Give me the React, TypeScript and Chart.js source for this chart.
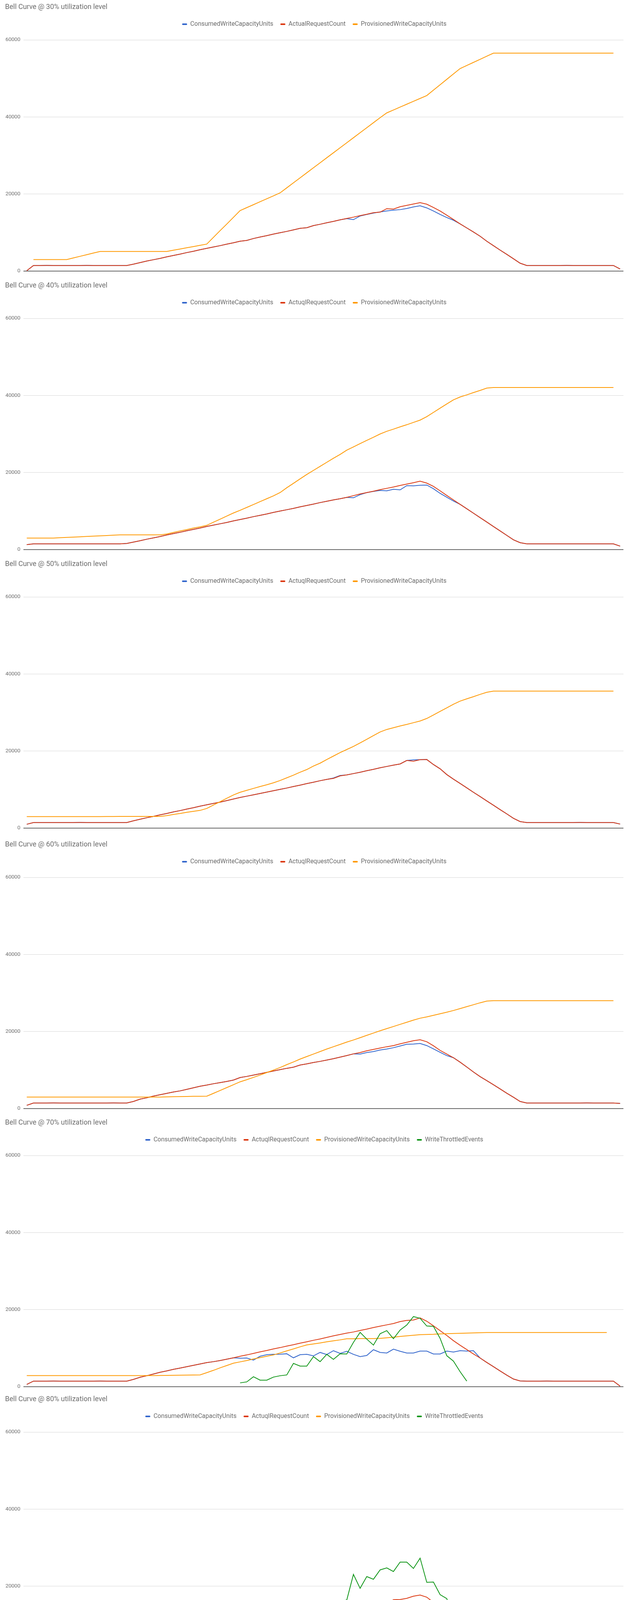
import React, { useEffect, useRef } from "react";
import { Chart, registerables } from "chart.js";

Chart.register(...registerables);

// ---------- categories (90 time buckets, x labels hidden) ----------
const timeLabels: string[] = Array.from({ length: 90 }, (_, i) => `t${i + 1}`);

// ---------- y axis ----------
const yTicks = [0, 20000, 40000, 60000];

// ---------- series names ----------
const consumedName = "ConsumedWriteCapacityUnits";
const actualName30 = "ActualRequestCount";
const actualName = "ActuqlRequestCount";
const provisionedName = "ProvisionedWriteCapacityUnits";
const throttledName = "WriteThrottledEvents";

// ---------- chart titles ----------
const titles = [
  "Bell Curve @ 30% utilization level",
  "Bell Curve @ 40% utilization level",
  "Bell Curve @ 50% utilization level",
  "Bell Curve @ 60% utilization level",
  "Bell Curve @ 70% utilization level",
  "Bell Curve @ 80% utilization level",
];

// ================= 30% =================
const actual30 = [
  100, 1450, 1450, 1460, 1450, 1450, 1440, 1450, 1450, 1460,
  1450, 1450, 1440, 1450, 1450, 1450, 1800, 2200, 2600, 2950,
  3300, 3700, 4050, 4400, 4800, 5150, 5550, 5900, 6250, 6600,
  7000, 7350, 7750, 7950, 8450, 8850, 9200, 9600, 9950, 10300,
  10700, 11100, 11250, 11800, 12150, 12550, 12900, 13300, 13650, 14000,
  14400, 14750, 15150, 15300, 16200, 16100, 16700, 17050, 17400, 17750,
  17350, 16500, 15600, 14500, 13400, 12250, 11200, 10150, 9050, 7750,
  6600, 5450, 4350, 3200, 2050, 1450, 1450, 1440, 1450, 1450,
  1450, 1460, 1450, 1450, 1450, 1440, 1450, 1450, 1450, 550,
];
const consumed30 = [
  100, 1450, 1450, 1460, 1450, 1450, 1440, 1450, 1450, 1460,
  1450, 1450, 1440, 1450, 1450, 1450, 1800, 2200, 2600, 2950,
  3300, 3700, 4050, 4400, 4800, 5150, 5550, 5900, 6250, 6600,
  7000, 7350, 7750, 7950, 8450, 8850, 9200, 9600, 9950, 10300,
  10700, 11100, 11250, 11800, 12150, 12550, 12900, 13300, 13600, 13350,
  14300, 14700, 15050, 15350, 15600, 15800, 15950, 16250, 16650, 16950,
  16400, 15600, 14700, 13900, 13200, 12250, 11200, 10150, 9050, 7750,
  6600, 5450, 4350, 3200, 2050, 1450, 1450, 1440, 1450, 1450,
  1450, 1460, 1450, 1450, 1450, 1440, 1450, 1450, 1450, 550,
];
const provisioned30 = [
  null, 3000, 3000, 3000, 3000, 3000, 3000, 3420, 3840, 4260,
  4680, 5100, 5100, 5100, 5100, 5100, 5100, 5100, 5100, 5100,
  5100, 5100, 5420, 5730, 6050, 6370, 6680, 7000, 8750, 10500,
  12200, 13950, 15700, 16470, 17230, 18000, 18770, 19530, 20300, 21600,
  22900, 24200, 25500, 26800, 28100, 29400, 30700, 32000, 33300, 34600,
  35900, 37200, 38500, 39800, 41050, 41800, 42550, 43300, 44050, 44800,
  45550, 46950, 48350, 49750, 51150, 52550, 53350, 54150, 54950, 55750,
  56550, 56550, 56550, 56550, 56550, 56550, 56550, 56550, 56550, 56550,
  56550, 56550, 56550, 56550, 56550, 56550, 56550, 56550, 56550, null,
];

// ================= 40% =================
const actual40 = [
  1300, 1500, 1500, 1490, 1500, 1500, 1500, 1490, 1500, 1500,
  1500, 1500, 1490, 1500, 1500, 1600, 1950, 2300, 2700, 3050,
  3400, 3800, 4150, 4500, 4900, 5250, 5600, 6000, 6350, 6700,
  7050, 7450, 7800, 8150, 8550, 8900, 9250, 9650, 10000, 10350,
  10700, 11100, 11450, 11800, 12200, 12550, 12900, 13200, 13550, 14000,
  14450, 14800, 15150, 15550, 15900, 16250, 16650, 17000, 17350, 17750,
  17250, 16400, 15250, 14050, 12900, 11750, 10600, 9450, 8300, 7150,
  6000, 4850, 3700, 2550, 1800, 1500, 1500, 1490, 1500, 1500,
  1500, 1500, 1490, 1500, 1500, 1500, 1500, 1490, 1500, 900,
];
const consumed40 = [
  1300, 1500, 1500, 1490, 1500, 1500, 1500, 1490, 1500, 1500,
  1500, 1500, 1490, 1500, 1500, 1600, 1950, 2300, 2700, 3050,
  3400, 3800, 4150, 4500, 4900, 5250, 5600, 6000, 6350, 6700,
  7050, 7450, 7800, 8150, 8550, 8900, 9250, 9650, 10000, 10350,
  10700, 11100, 11450, 11800, 12200, 12550, 12900, 13200, 13550, 13450,
  14250, 14800, 15100, 15350, 15250, 15650, 15500, 16600, 16550, 16700,
  16750, 15800, 14600, 13600, 12600, 11750, 10600, 9450, 8300, 7150,
  6000, 4850, 3700, 2550, 1800, 1500, 1500, 1490, 1500, 1500,
  1500, 1500, 1490, 1500, 1500, 1500, 1500, 1490, 1500, 900,
];
const provisioned40 = [
  3000, 3000, 3000, 3000, 3000, 3080, 3160, 3240, 3330, 3410,
  3490, 3580, 3660, 3740, 3830, 3830, 3830, 3830, 3830, 3830,
  3830, 4050, 4450, 4850, 5200, 5600, 5900, 6300, 7100, 7900,
  8700, 9500, 10200, 10950, 11700, 12450, 13200, 13950, 14800, 16050,
  17200, 18350, 19500, 20550, 21600, 22650, 23700, 24700, 25800, 26650,
  27500, 28350, 29150, 30000, 30700, 31250, 31850, 32400, 33000, 33600,
  34500, 35600, 36700, 37800, 38850, 39600, 40150, 40750, 41300, 41900,
  42050, 42050, 42050, 42050, 42050, 42050, 42050, 42050, 42050, 42050,
  42050, 42050, 42050, 42050, 42050, 42050, 42050, 42050, 42050, null,
];

// ================= 50% =================
const actual50 = [
  1000, 1450, 1450, 1450, 1440, 1450, 1450, 1450, 1460, 1450,
  1450, 1450, 1450, 1440, 1450, 1450, 1900, 2300, 2700, 3050,
  3450, 3800, 4200, 4550, 4950, 5300, 5700, 6050, 6400, 6750,
  7150, 7550, 7950, 8300, 8650, 9000, 9350, 9700, 10050, 10400,
  10800, 11150, 11550, 11900, 12300, 12650, 12900, 13550, 13800, 14150,
  14500, 14900, 15250, 15650, 16000, 16350, 16650, 17550, 17350, 17750,
  17800, 16500, 15400, 13900, 12700, 11600, 10450, 9300, 8200, 7050,
  5950, 4800, 3700, 2550, 1700, 1450, 1450, 1450, 1440, 1450,
  1450, 1450, 1450, 1460, 1450, 1450, 1450, 1450, 1450, 1050,
];
const consumed50 = [
  1000, 1450, 1450, 1450, 1440, 1450, 1450, 1450, 1460, 1450,
  1450, 1450, 1450, 1440, 1450, 1450, 1900, 2300, 2700, 3050,
  3450, 3800, 4200, 4550, 4950, 5300, 5700, 6050, 6400, 6750,
  7150, 7550, 7950, 8300, 8650, 9000, 9350, 9700, 10050, 10400,
  10800, 11150, 11550, 11900, 12300, 12650, 13000, 13650, 13800, 14150,
  14500, 14900, 15250, 15650, 16000, 16350, 16650, 17550, 17700, 17750,
  17800, 16500, 15400, 13900, 12700, 11600, 10450, 9300, 8200, 7050,
  5950, 4800, 3700, 2550, 1700, 1450, 1450, 1450, 1440, 1450,
  1450, 1450, 1450, 1460, 1450, 1450, 1450, 1450, 1450, 1050,
];
const provisioned50 = [
  2980, 2980, 2980, 2980, 2980, 2980, 2980, 2980, 2980, 2980,
  2980, 3000, 3010, 3020, 3030, 3040, 3040, 3040, 3040, 3040,
  3040, 3250, 3550, 3800, 4100, 4350, 4600, 5100, 6000, 6850,
  7750, 8600, 9300, 9800, 10300, 10800, 11250, 11750, 12350, 13050,
  13750, 14500, 15200, 16100, 16850, 17800, 18700, 19600, 20400, 21200,
  22100, 23050, 24000, 24950, 25600, 26050, 26500, 26900, 27350, 27800,
  28450, 29350, 30300, 31200, 32150, 32950, 33550, 34100, 34700, 35250,
  35550, 35550, 35550, 35550, 35550, 35550, 35550, 35550, 35550, 35550,
  35550, 35550, 35550, 35550, 35550, 35550, 35550, 35550, 35550, null,
];

// ================= 60% =================
const actual60 = [
  850, 1450, 1450, 1450, 1460, 1450, 1450, 1440, 1450, 1450,
  1450, 1450, 1450, 1460, 1450, 1450, 1850, 2450, 2800, 3250,
  3600, 3950, 4300, 4600, 5000, 5400, 5800, 6100, 6450, 6750,
  7050, 7400, 8050, 8350, 8700, 9050, 9400, 9750, 10100, 10450,
  10750, 11300, 11600, 11950, 12250, 12600, 12950, 13350, 13750, 14200,
  14550, 15000, 15350, 15700, 16050, 16350, 16800, 17200, 17600, 17850,
  17350, 16300, 15100, 14150, 13200, 12050, 10800, 9500, 8300, 7250,
  6200, 5100, 4000, 2950, 1850, 1450, 1450, 1450, 1440, 1450,
  1450, 1450, 1450, 1450, 1460, 1450, 1450, 1450, 1450, 1350,
];
const consumed60 = [
  850, 1450, 1450, 1450, 1460, 1450, 1450, 1440, 1450, 1450,
  1450, 1450, 1450, 1460, 1450, 1450, 1850, 2450, 2800, 3250,
  3600, 3950, 4300, 4600, 5000, 5400, 5800, 6100, 6450, 6750,
  7050, 7400, 8050, 8350, 8700, 9050, 9400, 9750, 10100, 10450,
  10750, 11300, 11600, 11950, 12250, 12600, 12950, 13350, 13750, 14200,
  14150, 14550, 14800, 15200, 15450, 15800, 16250, 16700, 16750, 16900,
  16350, 15500, 14600, 13750, 13200, 12050, 10800, 9500, 8300, 7250,
  6200, 5100, 4000, 2950, 1850, 1450, 1450, 1450, 1440, 1450,
  1450, 1450, 1450, 1450, 1460, 1450, 1450, 1450, 1450, 1350,
];
const provisioned60 = [
  3000, 3000, 3000, 3000, 3000, 3000, 3000, 3000, 3000, 3000,
  3000, 3000, 3000, 3000, 3000, 3000, 3000, 3000, 3000, 3000,
  3000, 3050, 3080, 3110, 3150, 3180, 3200, 3230, 3950, 4700,
  5450, 6200, 6950, 7500, 8100, 8700, 9350, 10000, 10650, 11400,
  12100, 12850, 13500, 14150, 14800, 15450, 16050, 16650, 17250, 17800,
  18400, 19000, 19600, 20200, 20750, 21300, 21850, 22400, 22950, 23450,
  23800, 24200, 24600, 25000, 25450, 25950, 26450, 26950, 27450, 27900,
  28000, 28000, 28000, 28000, 28000, 28000, 28000, 28000, 28000, 28000,
  28000, 28000, 28000, 28000, 28000, 28000, 28000, 28000, 28000, null,
];

// ================= 70% =================
const actual70 = [
  600, 1450, 1450, 1450, 1460, 1450, 1450, 1440, 1450, 1450,
  1450, 1460, 1450, 1450, 1450, 1450, 1900, 2450, 2850, 3300,
  3750, 4100, 4500, 4850, 5200, 5550, 5900, 6250, 6500, 6800,
  7150, 7500, 7900, 8250, 8650, 9050, 9400, 9800, 10150, 10550,
  10900, 11300, 11650, 12050, 12400, 12800, 13200, 13550, 13900, 14200,
  14600, 14950, 15350, 15700, 16050, 16400, 16900, 17200, 17300, 17850,
  17000, 15800, 14550, 13300, 11950, 10750, 9650, 8500, 7450, 6300,
  5200, 4100, 3000, 2000, 1500, 1450, 1450, 1450, 1460, 1450,
  1450, 1450, 1440, 1450, 1450, 1450, 1450, 1450, 1450, 150,
];
const consumed70 = [
  600, 1450, 1450, 1450, 1460, 1450, 1450, 1440, 1450, 1450,
  1450, 1460, 1450, 1450, 1450, 1450, 1900, 2450, 2850, 3300,
  3750, 4100, 4500, 4850, 5200, 5550, 5900, 6250, 6500, 6800,
  7150, 7500, 7400, 7450, 6900, 7900, 8300, 8400, 8450, 8550,
  7500, 8300, 8400, 8000, 8900, 8350, 9350, 8650, 9200, 8400,
  7800, 8100, 9600, 8900, 8750, 9750, 9200, 8750, 8750, 9250,
  9250, 8500, 8500, 9250, 9000, 9350, 9250, 9350, 7450, 6300,
  5200, 4100, 3000, 2000, 1500, 1450, 1450, 1450, 1460, 1450,
  1450, 1450, 1440, 1450, 1450, 1450, 1450, 1450, 1450, 150,
];
const provisioned70 = [
  2900, 2900, 2900, 2900, 2900, 2900, 2900, 2900, 2900, 2900,
  2900, 2900, 2900, 2900, 2900, 2900, 2900, 2900, 2900, 2900,
  2920, 2950, 2970, 3000, 3020, 3050, 3070, 3650, 4250, 4900,
  5500, 6100, 6450, 6800, 7200, 7550, 7900, 8250, 8750, 9300,
  9800, 10350, 10850, 11100, 11350, 11650, 11900, 12150, 12450, 12450,
  12500, 12500, 12500, 12550, 12700, 12850, 13050, 13200, 13350, 13500,
  13550, 13600, 13700, 13750, 13800, 13850, 13900, 13950, 14000, 14050,
  14050, 14050, 14050, 14050, 14050, 14050, 14050, 14050, 14050, 14050,
  14050, 14050, 14050, 14050, 14050, 14050, 14050, 14050, null, null,
];
const throttled70 = [
  null, null, null, null, null, null, null, null, null, null,
  null, null, null, null, null, null, null, null, null, null,
  null, null, null, null, null, null, null, null, null, null,
  null, null, 1000, 1250, 2600, 1700, 1700, 2500, 2850, 3050,
  6050, 5350, 5350, 7800, 6500, 8400, 7100, 8550, 8500, 11500,
  14100, 12350, 10800, 13750, 14550, 12450, 14700, 16000, 18200, 17750,
  15750, 15650, 12550, 8050, 6650, 3900, 1450, null, null, null,
  null, null, null, null, null, null, null, null, null, null,
  null, null, null, null, null, null, null, null, null, null,
];

// ================= 80% =================
const actual80 = [
  250, 1400, 1400, 1400, 1410, 1400, 1400, 1390, 1400, 1400,
  1400, 1400, 1400, 1410, 1400, 1400, 1800, 2350, 2800, 3200,
  3700, 4050, 4450, 4800, 5150, 5500, 5850, 6200, 6550, 6950,
  7250, 7400, 7950, 8300, 8750, 9100, 9450, 9750, 10050, 10500,
  10850, 11300, 11700, 12050, 12400, 12700, 13050, 13350, 13500, 13900,
  14250, 14900, 15250, 15550, 15400, 16500, 16550, 16850, 17400, 17700,
  17150, 15800, 14600, 13400, 12350, 11350, 10300, 9250, 8150, 7050,
  5950, 4850, 3750, 2600, 1650, 1400, 1400, 1400, 1410, 1400,
  1400, 1400, 1400, 1400, 1390, 1400, 1400, 1400, 1400, 350,
];
const consumed80 = [
  250, 1400, 1400, 1400, 1410, 1400, 1400, 1390, 1400, 1400,
  1400, 1400, 1400, 1410, 1400, 1400, 1800, 2350, 2800, 3200,
  3700, 4050, 4450, 4800, 5150, 5500, 5850, 6000, 5250, 5100,
  5020, 5390, 5860, 5480, 6090, 6000, 6000, 5860, 5250, 4920,
  5530, 5160, 5770, 5770, 6420, 5720, 6330, 5860, 6090, 4830,
  5770, 5480, 5720, 5720, 5630, 5770, 5860, 6230, 6330, 6330,
  6940, 6660, 6420, 6330, 6890, 5250, 5250, 4780, 5160, 4830,
  5390, 4920, 3750, 2600, 1650, 1400, 1400, 1400, 1410, 1400,
  1400, 1400, 1400, 1400, 1390, 1400, 1400, 1400, 1400, 350,
];
const provisioned80 = [
  2900, 2900, 2900, 2900, 2900, 2900, 2900, 2900, 2900, 2900,
  2900, 2900, 2900, 2900, 2900, 2900, 2900, 2900, 2900, 2900,
  2900, 2900, 2900, 2900, 2900, 2900, 2900, 3250, 3700, 4150,
  4550, 5000, 5450, 5900, 6300, 6750, 7200, 7650, 7650, 7660,
  7660, 7670, 7670, 7680, 7680, 7690, 7690, 7700, 7700, 7710,
  7710, 7720, 7720, 7730, 7800, 7850, 7900, 7950, 8000, 8050,
  8050, 8050, 8050, 8050, 8050, 8050, 8050, 8050, 8050, 8150,
  8300, 8400, 8500, 8600, 8700, 8750, 8750, 8750, 8750, 8750,
  8750, 8750, 8750, 8750, 8750, 8750, 8750, 8750, null, null,
];
const throttled80 = [
  null, null, null, null, null, null, null, null, null, null,
  null, null, null, null, null, null, null, null, null, null,
  null, null, null, null, null, null, null, null, 1875, 3280,
  4080, 3610, 3520, 4830, 4220, 5250, 6230, 7270, 10780, 12280,
  11250, 13590, 11250, 11860, 11860, 15090, 14160, 16030, 16410, 23060,
  19450, 22500, 21800, 24230, 24750, 23810, 26250, 26250, 24610, 27280,
  21000, 21090, 17810, 16780, 11160, 15090, 12560, 9840, 7120, 4920,
  1410, 140, null, null, null, null, null, null, null, null,
  null, null, null, null, null, null, null, null, null, null,
];

// ---------- colours ----------
const BLUE = "#3366cc";
const RED = "#dc3912";
const ORANGE = "#ff9900";
const GREEN = "#109618";

type Series = (number | null)[];
interface PanelCfg {
  title: string;
  actualLabel: string;
  consumed: Series;
  actual: Series;
  provisioned: Series;
  throttled?: Series;
  top: number;
}

const panels: PanelCfg[] = [
  { title: titles[0], actualLabel: actualName30, consumed: consumed30, actual: actual30, provisioned: provisioned30, top: 0 },
  { title: titles[1], actualLabel: actualName, consumed: consumed40, actual: actual40, provisioned: provisioned40, top: 713 },
  { title: titles[2], actualLabel: actualName, consumed: consumed50, actual: actual50, provisioned: provisioned50, top: 1426 },
  { title: titles[3], actualLabel: actualName, consumed: consumed60, actual: actual60, provisioned: provisioned60, top: 2144 },
  { title: titles[4], actualLabel: actualName, consumed: consumed70, actual: actual70, provisioned: provisioned70, throttled: throttled70, top: 2856 },
  { title: titles[5], actualLabel: actualName, consumed: consumed80, actual: actual80, provisioned: provisioned80, throttled: throttled80, top: 3564 },
];

const CANVAS_W = 1600;
const CANVAS_H = 713;
const LEGEND_EXTRA = 22;
const FONT = "Roboto, 'Noto Sans', sans-serif";
const TEXT_GREY = "#6b6b6b";

const legendSpacer = {
  id: "legendSpacer",
  afterInit(chart: any) {
    const legend = chart.legend;
    if (legend && !legend.__spaced) {
      const orig = legend.fit;
      legend.fit = function () {
        orig.call(this);
        this.height += LEGEND_EXTRA;
      };
      legend.__spaced = true;
    }
  },
};

function Panel({ cfg }: { cfg: PanelCfg }) {
  const ref = useRef<HTMLCanvasElement | null>(null);

  useEffect(() => {
    if (!ref.current) return;
    const base = [
      { label: consumedName, data: cfg.consumed, color: BLUE, order: 4 },
      { label: cfg.actualLabel, data: cfg.actual, color: RED, order: 3 },
      { label: provisionedName, data: cfg.provisioned, color: ORANGE, order: 2 },
    ];
    if (cfg.throttled) base.push({ label: throttledName, data: cfg.throttled, color: GREEN, order: 1 });

    const datasets = base.map((d) => ({
      label: d.label,
      data: d.data,
      borderColor: d.color,
      backgroundColor: d.color,
      borderWidth: 2,
      pointRadius: 0,
      pointHoverRadius: 0,
      tension: 0,
      fill: false,
      spanGaps: false,
      order: d.order,
    }));

    const chart = new Chart(ref.current, {
      type: "line",
      data: { labels: timeLabels, datasets: datasets as any },
      options: {
        responsive: false,
        animation: false,
        events: [],
        layout: { padding: { top: 0, right: 4, bottom: 19, left: 13 } },
        scales: {
          x: { display: false, offset: true },
          y: {
            min: 0,
            max: 60000,
            afterBuildTicks: (scale: any) => {
              scale.ticks = yTicks.map((v) => ({ value: v }));
            },
            afterFit: (scale: any) => {
              scale.width = 47;
            },
            ticks: {
              color: TEXT_GREY,
              font: { family: FONT, size: 13.5 },
              padding: 8,
              callback: (v: any) => String(v),
            },
            grid: {
              color: (ctx: any) => (ctx.tick && ctx.tick.value === 0 ? "#666" : "#d6d6d6"),
              lineWidth: (ctx: any) => (ctx.tick && ctx.tick.value === 0 ? 2 : 1),
              drawTicks: false,
            },
            border: { display: false },
          },
        },
        plugins: {
          title: {
            display: true,
            text: cfg.title,
            align: "start",
            color: TEXT_GREY,
            font: { family: FONT, size: 18, weight: "normal" as any },
            padding: { top: 7.2, bottom: 7.2 },
          },
          legend: {
            display: true,
            position: "top",
            align: "center",
            labels: {
              color: TEXT_GREY,
              font: { family: FONT, size: 16 },
              boxWidth: 13,
              boxHeight: 4,
              padding: 18,
              useBorderRadius: true,
              borderRadius: 2,
              sort: (a: any, b: any) => a.datasetIndex - b.datasetIndex,
              generateLabels: (ch: any) =>
                (Chart.defaults.plugins.legend.labels.generateLabels as any)(ch).map((l: any) => ({
                  ...l,
                  lineWidth: 0,
                })),
            },
          },
          tooltip: { enabled: false },
        },
      },
      plugins: [legendSpacer as any],
    });
    return () => chart.destroy();
  }, [cfg]);

  return (
    <div style={{ position: "absolute", left: 0, top: cfg.top, width: CANVAS_W, height: CANVAS_H }}>
      <canvas ref={ref} width={CANVAS_W} height={CANVAS_H} style={{ display: "block", width: CANVAS_W, height: CANVAS_H }} />
    </div>
  );
}

export default function App() {
  return (
    <div
      style={{
        position: "absolute",
        left: 0,
        top: 0,
        width: 1600,
        height: 4275,
        overflow: "hidden",
        background: "#ffffff",
      }}
    >
      {panels.map((p) => (
        <Panel key={p.title} cfg={p} />
      ))}
    </div>
  );
}
